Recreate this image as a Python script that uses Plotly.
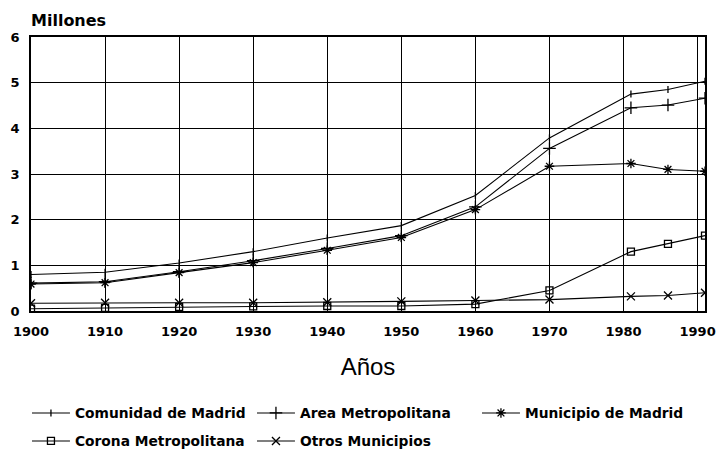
import plotly.graph_objects as go

years = [1900, 1910, 1920, 1930, 1940, 1950, 1960, 1970, 1981, 1986, 1991]
comunidad = [0.80, 0.85, 1.05, 1.30, 1.60, 1.87, 2.53, 3.79, 4.75, 4.85, 5.03]
area_metro = [0.61, 0.64, 0.86, 1.10, 1.37, 1.65, 2.28, 3.56, 4.45, 4.51, 4.66]
municipio = [0.59, 0.62, 0.84, 1.06, 1.33, 1.61, 2.22, 3.17, 3.23, 3.10, 3.06]
corona = [0.05, 0.07, 0.09, 0.10, 0.11, 0.11, 0.15, 0.45, 1.30, 1.47, 1.65]
otros = [0.17, 0.18, 0.18, 0.18, 0.19, 0.21, 0.23, 0.25, 0.32, 0.34, 0.40]

x_ticks = [1900, 1910, 1920, 1930, 1940, 1950, 1960, 1970, 1980, 1990]
y_ticks = [0, 1, 2, 3, 4, 5, 6]

series = [
    ("Comunidad de Madrid", comunidad, "line-ns-open", 5, "legend"),
    ("Area Metropolitana", area_metro, "cross-thin-open", 9, "legend"),
    ("Municipio de Madrid", municipio, "asterisk-open", 8, "legend"),
    ("Corona Metropolitana", corona, "square-open", 7, "legend2"),
    ("Otros Municipios", otros, "x-thin-open", 8, "legend2"),
]

fig = go.Figure()
for name, vals, sym, sz, lg in series:
    fig.add_trace(go.Scatter(
        x=years, y=vals, name=name, mode="lines+markers", legend=lg,
        line=dict(color="black", width=1.1),
        marker=dict(symbol=sym, size=sz, color="black",
                    line=dict(color="black", width=1.3)),
    ))

bold_font = "DejaVu Sans, sans-serif"
legend_common = dict(
    orientation="h", xanchor="left", yanchor="middle",
    font=dict(family=bold_font, size=13.8, weight="bold"),
    itemwidth=38, entrywidth=172, entrywidthmode="pixels",
    bgcolor="rgba(0,0,0,0)",
)

fig.update_layout(
    width=722, height=453,
    margin=dict(l=31, r=17, t=37, b=142, autoexpand=False),
    paper_bgcolor="white", plot_bgcolor="white",
    font=dict(family="Liberation Sans, Arial, sans-serif", color="black"),
    showlegend=True,
    legend=dict(x=-0.006, y=-(413 - 311) / 274, **legend_common),
    legend2=dict(x=-0.006, y=-(441 - 311) / 274, **legend_common),
    xaxis=dict(
        range=[1900, 1991], tickvals=x_ticks,
        ticktext=[str(v) for v in x_ticks],
        showgrid=True, gridcolor="black", gridwidth=1.3,
        showline=True, linecolor="black", linewidth=1.5, mirror=True,
        zeroline=False, ticks="", automargin=False, ticklabelstandoff=8,
        tickfont=dict(family=bold_font, size=13, weight="bold"),
        title=dict(text="Años", font=dict(family="Liberation Sans, Arial, sans-serif", size=24),
                   standoff=20),
    ),
    yaxis=dict(
        range=[0, 6], tickvals=y_ticks,
        showgrid=True, gridcolor="black", gridwidth=1.3,
        showline=True, linecolor="black", linewidth=1.5, mirror=True,
        zeroline=False, ticks="", automargin=False, ticklabelstandoff=7,
        tickfont=dict(family=bold_font, size=13, weight="bold"),
    ),
    annotations=[dict(
        text="Millones", xref="paper", yref="paper", x=-0.003, y=1.0,
        xanchor="left", yanchor="bottom", yshift=5, showarrow=False,
        font=dict(family=bold_font, size=16, weight="bold"),
    )],
)

fig.write_html("out.html", config={"displayModeBar": False},
               post_script="document.body.style.margin='0';")
